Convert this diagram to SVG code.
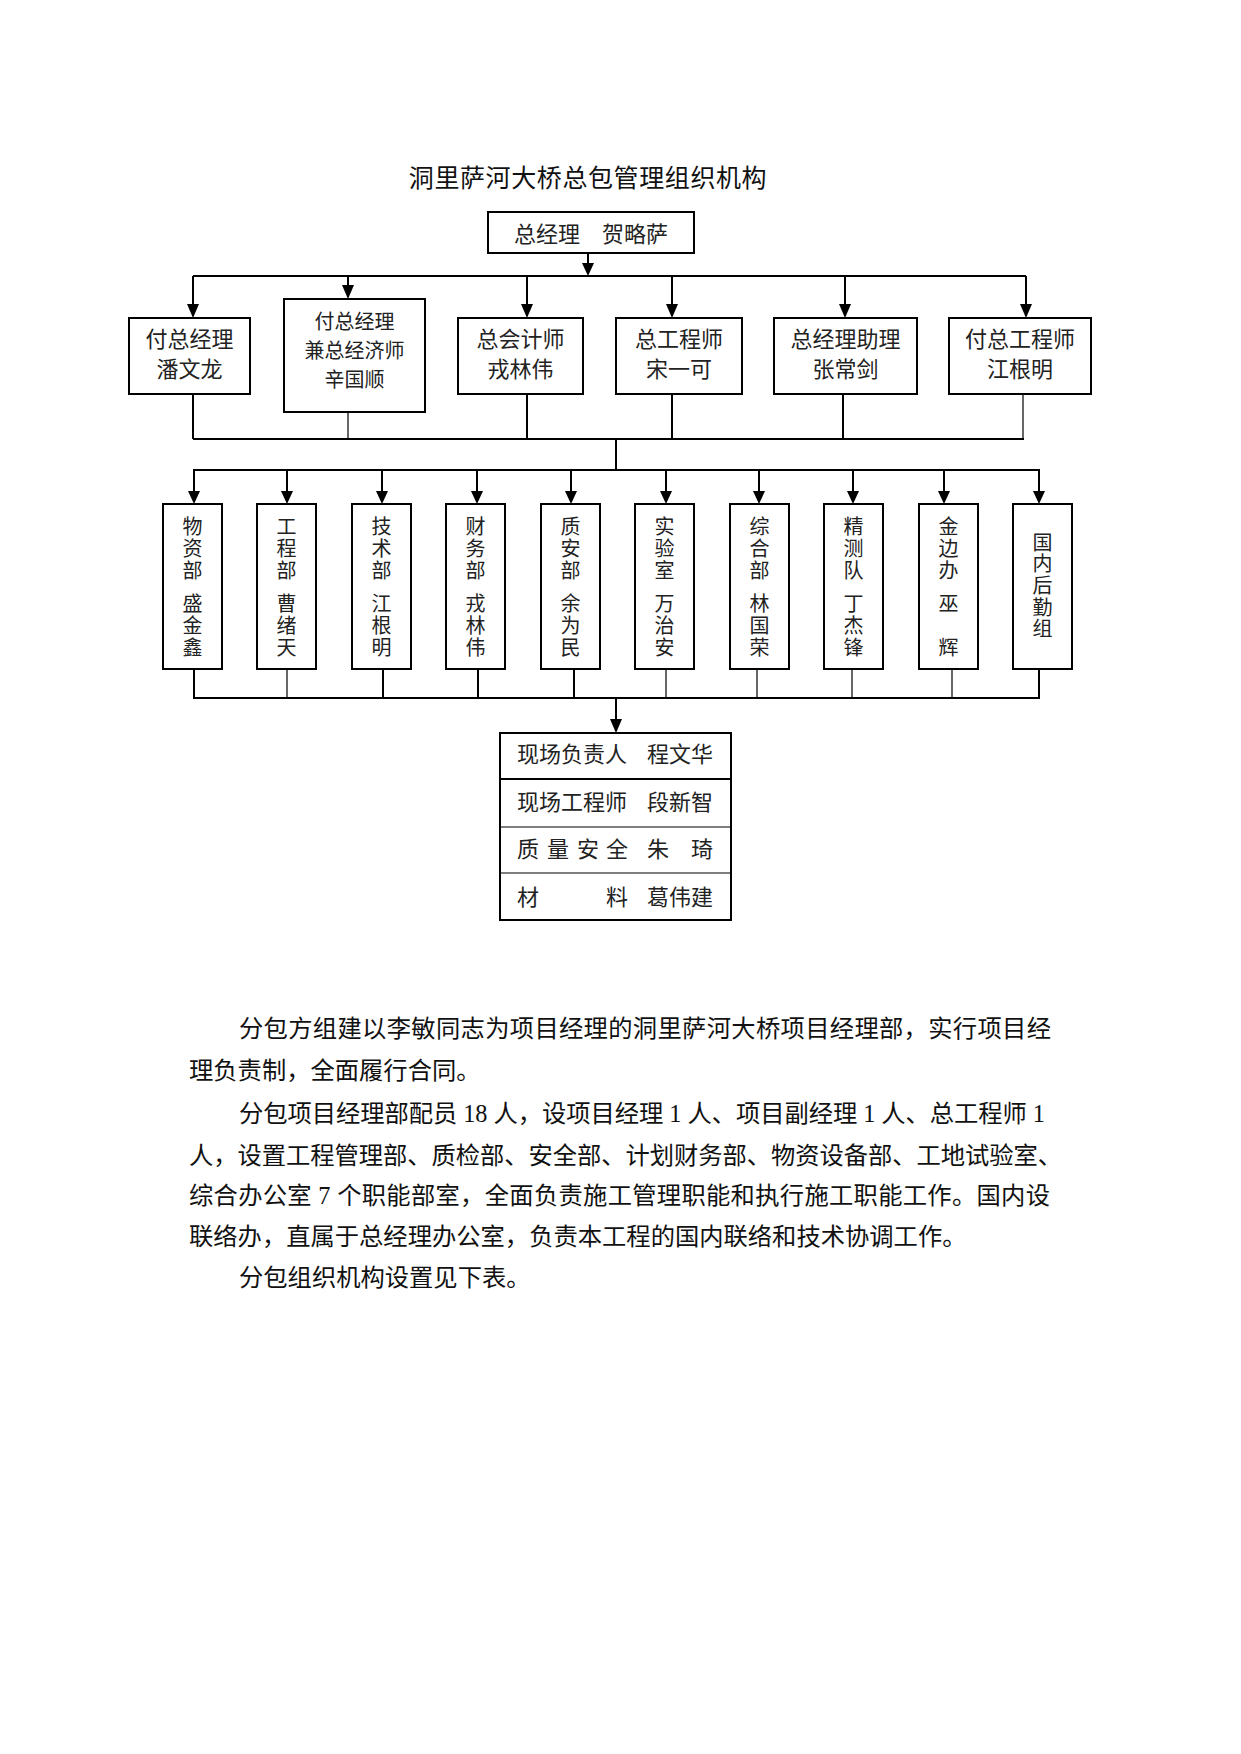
<svg xmlns="http://www.w3.org/2000/svg" width="1241" height="1754" viewBox="0 0 1241 1754">
<style>
.bg{fill:#fff}
.box{fill:#fff;stroke:#000;stroke-width:2}
.ln{stroke:#000;stroke-width:2;fill:none}
.thin{stroke-width:1.2}
.ah{fill:#000}
.t{font-family:"Noto Sans CJK SC","Noto Sans CJK TC",sans-serif;font-size:22px;fill:#222}
.c{text-anchor:middle}
.s{font-size:20px}
.v{font-size:20px;writing-mode:vertical-rl;letter-spacing:2px}
.v2{letter-spacing:1.7px}
.title{font-family:"Noto Sans CJK SC",sans-serif;font-size:25px;fill:#111;letter-spacing:0.6px;text-anchor:middle}
.body{font-family:"Liberation Serif","Noto Sans CJK SC",serif;font-size:24.3px;fill:#111}
</style>
<rect class="bg" x="0" y="0" width="1241" height="1754"/>

<text class="title" x="588" y="187">洞里萨河大桥总包管理组织机构</text>

<g id="connectors">
  <line class="ln" x1="588" y1="253" x2="588" y2="264"/>
  <polygon class="ah" points="582,263 594,263 588,276"/>
  <line class="ln" x1="193" y1="276" x2="1026" y2="276"/>
  <line class="ln" x1="193" y1="276" x2="193" y2="305"/>
  <polygon class="ah" points="187,304 199,304 193,318"/>
  <line class="ln" x1="348" y1="276" x2="348" y2="286"/>
  <polygon class="ah" points="342,285 354,285 348,299"/>
  <line class="ln" x1="527" y1="276" x2="527" y2="305"/>
  <polygon class="ah" points="521,304 533,304 527,318"/>
  <line class="ln" x1="672" y1="276" x2="672" y2="305"/>
  <polygon class="ah" points="666,304 678,304 672,318"/>
  <line class="ln" x1="845" y1="276" x2="845" y2="305"/>
  <polygon class="ah" points="839,304 851,304 845,318"/>
  <line class="ln" x1="1026" y1="276" x2="1026" y2="305"/>
  <polygon class="ah" points="1020,304 1032,304 1026,318"/>
  <line class="ln" x1="193" y1="394" x2="193" y2="439"/>
  <line class="ln thin" x1="348" y1="412" x2="348" y2="439"/>
  <line class="ln" x1="527" y1="394" x2="527" y2="439"/>
  <line class="ln" x1="672" y1="394" x2="672" y2="439"/>
  <line class="ln" x1="843" y1="394" x2="843" y2="439"/>
  <line class="ln thin" x1="1023" y1="394" x2="1023" y2="439"/>
  <line class="ln" x1="193" y1="439" x2="1024" y2="439"/>
  <line class="ln" x1="616" y1="439" x2="616" y2="470"/>
  <line class="ln" x1="193" y1="470" x2="1040" y2="470"/>
  <line class="ln" x1="194" y1="470" x2="194" y2="492"/>
  <polygon class="ah" points="188,491 200,491 194,504"/>
  <line class="ln" x1="287" y1="470" x2="287" y2="492"/>
  <polygon class="ah" points="281,491 293,491 287,504"/>
  <line class="ln" x1="382" y1="470" x2="382" y2="492"/>
  <polygon class="ah" points="376,491 388,491 382,504"/>
  <line class="ln" x1="477" y1="470" x2="477" y2="492"/>
  <polygon class="ah" points="471,491 483,491 477,504"/>
  <line class="ln" x1="571" y1="470" x2="571" y2="492"/>
  <polygon class="ah" points="565,491 577,491 571,504"/>
  <line class="ln" x1="666" y1="470" x2="666" y2="492"/>
  <polygon class="ah" points="660,491 672,491 666,504"/>
  <line class="ln" x1="759" y1="470" x2="759" y2="492"/>
  <polygon class="ah" points="753,491 765,491 759,504"/>
  <line class="ln" x1="853" y1="470" x2="853" y2="492"/>
  <polygon class="ah" points="847,491 859,491 853,504"/>
  <line class="ln" x1="944" y1="470" x2="944" y2="492"/>
  <polygon class="ah" points="938,491 950,491 944,504"/>
  <line class="ln" x1="1039" y1="470" x2="1039" y2="492"/>
  <polygon class="ah" points="1033,491 1045,491 1039,504"/>
  <line class="ln" x1="194" y1="669" x2="194" y2="698"/>
  <line class="ln thin" x1="287" y1="669" x2="287" y2="698"/>
  <line class="ln" x1="383" y1="669" x2="383" y2="698"/>
  <line class="ln" x1="478" y1="669" x2="478" y2="698"/>
  <line class="ln" x1="574" y1="669" x2="574" y2="698"/>
  <line class="ln thin" x1="666" y1="669" x2="666" y2="698"/>
  <line class="ln thin" x1="757" y1="669" x2="757" y2="698"/>
  <line class="ln thin" x1="852" y1="669" x2="852" y2="698"/>
  <line class="ln thin" x1="952" y1="669" x2="952" y2="698"/>
  <line class="ln" x1="1039" y1="669" x2="1039" y2="698"/>
  <line class="ln" x1="193" y1="698" x2="1040" y2="698"/>
  <line class="ln" x1="616" y1="698" x2="616" y2="720"/>
  <polygon class="ah" points="610,719 622,719 616,733"/>
</g>

<g id="gm">
  <rect class="box" x="488" y="212" width="206" height="41"/>
  <text class="t c" x="591" y="242">总经理　贺略萨</text>
</g>

<g id="l2-1">
  <rect class="box" x="129" y="318" width="121" height="76"/>
  <text class="t c" x="189.5" y="347">付总经理</text>
  <text class="t c" x="189.5" y="377">潘文龙</text>
</g>
<g id="l2-2">
  <rect class="box" x="284" y="299" width="141" height="113"/>
  <text class="t c s" x="354.5" y="329">付总经理</text>
  <text class="t c s" x="354.5" y="358">兼总经济师</text>
  <text class="t c s" x="354.5" y="387">辛国顺</text>
</g>
<g id="l2-3">
  <rect class="box" x="458" y="318" width="125" height="76"/>
  <text class="t c" x="520.5" y="347">总会计师</text>
  <text class="t c" x="520.5" y="377">戎林伟</text>
</g>
<g id="l2-4">
  <rect class="box" x="616" y="318" width="126" height="76"/>
  <text class="t c" x="679" y="347">总工程师</text>
  <text class="t c" x="679" y="377">宋一可</text>
</g>
<g id="l2-5">
  <rect class="box" x="774" y="318" width="143" height="76"/>
  <text class="t c" x="845.5" y="347">总经理助理</text>
  <text class="t c" x="845.5" y="377">张常剑</text>
</g>
<g id="l2-6">
  <rect class="box" x="949" y="318" width="142" height="76"/>
  <text class="t c" x="1020" y="347">付总工程师</text>
  <text class="t c" x="1020" y="377">江根明</text>
</g>

<g id="l3-1">
  <rect class="box" x="163" y="504" width="59" height="165"/>
  <text class="t v" x="192.5" y="516">物资部</text>
  <text class="t v" x="192.5" y="593">盛金鑫</text>
</g>
<g id="l3-2">
  <rect class="box" x="257" y="504" width="59" height="165"/>
  <text class="t v" x="286.5" y="516">工程部</text>
  <text class="t v" x="286.5" y="593">曹绪天</text>
</g>
<g id="l3-3">
  <rect class="box" x="352" y="504" width="59" height="165"/>
  <text class="t v" x="381.5" y="516">技术部</text>
  <text class="t v" x="381.5" y="593">江根明</text>
</g>
<g id="l3-4">
  <rect class="box" x="446" y="504" width="59" height="165"/>
  <text class="t v" x="475.5" y="516">财务部</text>
  <text class="t v" x="475.5" y="593">戎林伟</text>
</g>
<g id="l3-5">
  <rect class="box" x="541" y="504" width="59" height="165"/>
  <text class="t v" x="570.5" y="516">质安部</text>
  <text class="t v" x="570.5" y="593">余为民</text>
</g>
<g id="l3-6">
  <rect class="box" x="635" y="504" width="59" height="165"/>
  <text class="t v" x="664.5" y="516">实验室</text>
  <text class="t v" x="664.5" y="593">万治安</text>
</g>
<g id="l3-7">
  <rect class="box" x="730" y="504" width="59" height="165"/>
  <text class="t v" x="759.5" y="516">综合部</text>
  <text class="t v" x="759.5" y="593">林国荣</text>
</g>
<g id="l3-8">
  <rect class="box" x="824" y="504" width="59" height="165"/>
  <text class="t v" x="853.5" y="516">精测队</text>
  <text class="t v" x="853.5" y="593">丁杰锋</text>
</g>
<g id="l3-9">
  <rect class="box" x="919" y="504" width="59" height="165"/>
  <text class="t v" x="948.5" y="516">金边办</text>
  <text class="t v" x="948.5" y="593">巫</text>
  <text class="t v" x="948.5" y="637">辉</text>
</g>
<g id="l3-10">
  <rect class="box" x="1013" y="504" width="59" height="165"/>
  <text class="t v v2" x="1042.5" y="532">国内后勤组</text>
</g>

<g id="site">
  <rect class="box" x="500" y="733" width="231" height="187"/>
  <line class="ln" x1="500" y1="779" x2="731" y2="779"/>
  <line class="ln thin" x1="500" y1="827" x2="731" y2="827"/>
  <line class="ln thin" x1="500" y1="873" x2="731" y2="873"/>
  <text class="t" x="517" y="762">现场负责人</text>
  <text class="t" x="647" y="762">程文华</text>
  <text class="t" x="517" y="810">现场工程师</text>
  <text class="t" x="647" y="810">段新智</text>
  <text class="t" x="517" y="857">质</text>
  <text class="t" x="547" y="857">量</text>
  <text class="t" x="577" y="857">安</text>
  <text class="t" x="606" y="857">全</text>
  <text class="t" x="647" y="857">朱</text>
  <text class="t" x="691" y="857">琦</text>
  <text class="t" x="517" y="905">材</text>
  <text class="t" x="606" y="905">料</text>
  <text class="t" x="647" y="905">葛伟建</text>
</g>

<g id="paragraph">
  <text class="body" x="239" y="1037" textLength="812" lengthAdjust="spacing">分包方组建以李敏同志为项目经理的洞里萨河大桥项目经理部，实行项目经</text>
  <text class="body" x="189" y="1079">理负责制，全面履行合同。</text>
  <text class="body" x="239" y="1122" textLength="806" lengthAdjust="spacing">分包项目经理部配员 18 人，设项目经理 1 人、项目副经理 1 人、总工程师 1</text>
  <text class="body" x="189" y="1164" textLength="873" lengthAdjust="spacing">人，设置工程管理部、质检部、安全部、计划财务部、物资设备部、工地试验室、</text>
  <text class="body" x="189" y="1204" textLength="861" lengthAdjust="spacing">综合办公室 7 个职能部室，全面负责施工管理职能和执行施工职能工作。国内设</text>
  <text class="body" x="189" y="1245">联络办，直属于总经理办公室，负责本工程的国内联络和技术协调工作。</text>
  <text class="body" x="239" y="1286">分包组织机构设置见下表。</text>
</g>
</svg>
